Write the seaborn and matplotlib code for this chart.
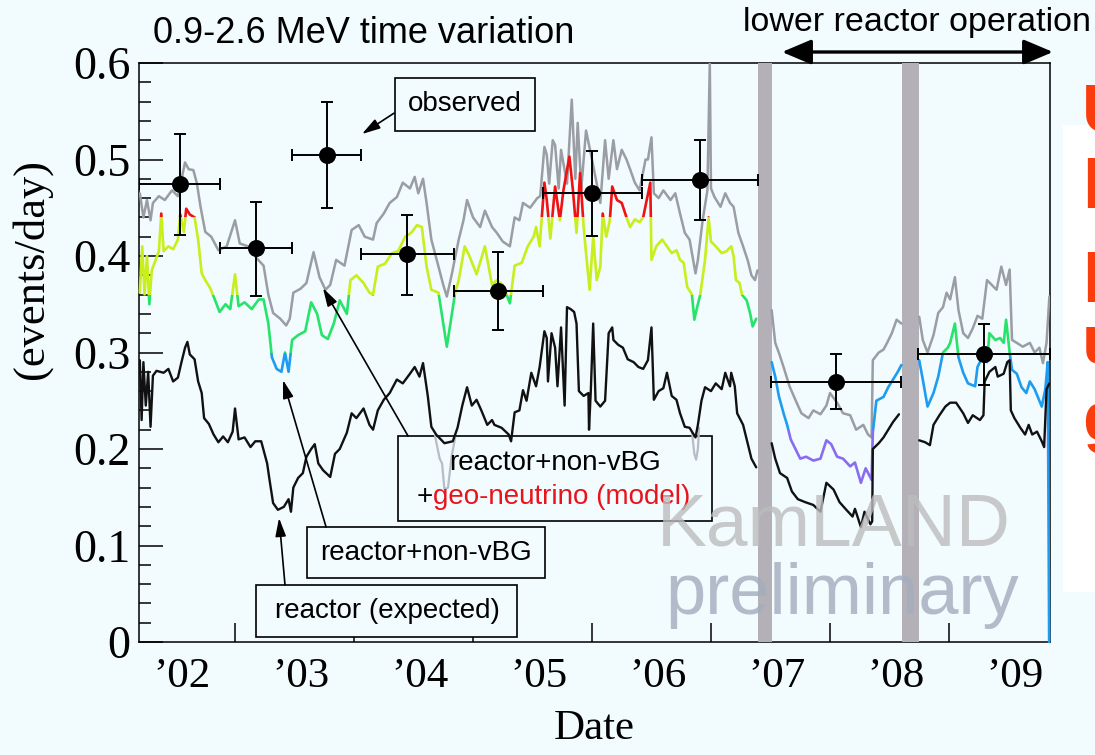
import numpy as np
import pandas as pd
import matplotlib
matplotlib.use("Agg")
import matplotlib.pyplot as plt
from matplotlib.patches import Rectangle
import seaborn as sns

# ---------------------------------------------------------------- data
nan = np.nan

# reactor + non-nu BG + geo-neutrino (model), events/day
total_year = [
    2002.20, 2002.23, 2002.26, 2002.29, 2002.31, 2002.36, 2002.41, 2002.47, 2002.52, 2002.58,
    2002.61, 2002.65, 2002.68, 2002.71, 2002.75, 2002.80, 2002.86, 2002.93, 2003.00, 2003.04,
    2003.11, 2003.18, 2003.24, 2003.28, 2003.32, 2003.38, 2003.43, 2003.46, 2003.49, 2003.55,
    2003.60, 2003.66, 2003.71, 2003.76, 2003.80, 2003.85, 2003.92, 2003.98, 2004.04, 2004.09,
    2004.16, 2004.19, 2004.25, 2004.30, 2004.36, 2004.41, 2004.47, 2004.51, 2004.54, 2004.58,
    2004.61, 2004.65, 2004.71, 2004.75, 2004.78, 2004.82, 2004.88, 2004.92, 2004.95, 2005.00,
    2005.06, 2005.10, 2005.16, 2005.20, 2005.25, 2005.31, 2005.35, 2005.39, 2005.42, 2005.48,
    2005.54, 2005.565, 2005.60, 2005.62, 2005.64, 2005.67, 2005.69, 2005.72, 2005.74, 2005.79,
    2005.83, 2005.86, 2005.88, 2005.91, 2005.95, 2006.00, 2006.04, 2006.07, 2006.11, 2006.14,
    2006.18, 2006.21, 2006.25, 2006.29, 2006.32, 2006.36, 2006.40, 2006.45, 2006.47, 2006.50,
    2006.52, 2006.56, 2006.60, 2006.66, 2006.70, 2006.74, 2006.78, 2006.82, 2006.87, 2006.89,
    2006.93, 2006.97, 2006.99, 2007.00, 2007.03, 2007.08, 2007.12, 2007.16, 2007.19, 2007.23,
    2007.27, 2007.31, 2007.34, 2007.37, 2007.39, 2007.45, 2007.51, 2007.54, 2007.57, 2007.61,
    2007.66, 2007.72, 2007.76, 2007.82, 2007.86, 2007.92, 2007.97, 2008.00, 2008.06, 2008.11,
    2008.17, 2008.22, 2008.28, 2008.32, 2008.35, 2008.36, 2008.41, 2008.45, 2008.48, 2008.52,
    2008.56, 2008.60, 2008.67, 2008.75, 2008.78, 2008.82, 2008.87, 2008.91, 2008.95, 2008.98,
    2009.01, 2009.05, 2009.08, 2009.12, 2009.16, 2009.20, 2009.24, 2009.28, 2009.32, 2009.36,
    2009.40, 2009.44, 2009.48, 2009.51, 2009.53, 2009.57, 2009.62, 2009.68, 2009.72, 2009.76,
    2009.79, 2009.82, 2009.844,
]
total_rate = [
    0.465, 0.440, 0.458, 0.437, 0.455, 0.462, 0.458, 0.468, 0.462, 0.497,
    0.490, 0.489, 0.475, 0.451, 0.425, 0.420, 0.406, 0.410, 0.437, 0.413,
    0.410, 0.398, 0.390, 0.360, 0.341, 0.335, 0.328, 0.335, 0.362, 0.366,
    0.372, 0.404, 0.378, 0.365, 0.370, 0.396, 0.390, 0.427, 0.432, 0.420,
    0.417, 0.434, 0.444, 0.455, 0.461, 0.476, 0.470, 0.482, 0.465, 0.480,
    0.455, 0.417, 0.389, 0.370, 0.358, 0.380, 0.417, 0.437, 0.458, 0.440,
    0.430, 0.447, 0.430, 0.424, 0.415, 0.410, 0.440, 0.437, 0.455, 0.450,
    0.460, 0.462, 0.513, 0.505, 0.475, 0.520, 0.515, 0.470, 0.510, 0.475,
    0.562, 0.480, 0.538, 0.470, 0.530, 0.500, 0.475, 0.455, 0.520, 0.480,
    0.520, 0.490, 0.510, 0.500, 0.490, 0.476, 0.468, 0.500, 0.500, 0.523,
    0.465, 0.460, 0.468, 0.458, 0.465, 0.444, 0.424, 0.417, 0.382, 0.396,
    0.437, 0.468, 0.600, 0.470, 0.461, 0.451, 0.465, 0.455, 0.451, 0.424,
    0.410, 0.395, 0.380, 0.375, 0.385, nan, 0.344, 0.310, 0.300, 0.285,
    0.265, 0.248, 0.237, 0.232, 0.240, 0.236, 0.245, 0.258, 0.248, 0.237,
    0.235, 0.220, 0.225, 0.215, 0.212, 0.292, 0.300, 0.303, 0.310, 0.320,
    0.334, 0.330, nan, 0.337, 0.313, 0.300, 0.318, 0.341, 0.347, 0.362,
    0.355, 0.378, 0.344, 0.320, 0.315, 0.325, 0.338, 0.335, 0.375, 0.370,
    0.365, 0.389, 0.370, 0.386, 0.313, 0.310, 0.306, 0.310, 0.300, 0.305,
    0.289, 0.310, 0.358,
]

# reactor + non-nu BG, events/day
nonbg_year = [
    2002.20, 2002.22, 2002.24, 2002.26, 2002.28, 2002.30, 2002.33, 2002.36, 2002.38, 2002.40,
    2002.44, 2002.48, 2002.52, 2002.54, 2002.57, 2002.59, 2002.62, 2002.66, 2002.69, 2002.72,
    2002.75, 2002.79, 2002.83, 2002.87, 2002.92, 2002.96, 2003.00, 2003.03, 2003.08, 2003.14,
    2003.20, 2003.24, 2003.28, 2003.31, 2003.35, 2003.39, 2003.42, 2003.45, 2003.48, 2003.53,
    2003.59, 2003.64, 2003.69, 2003.73, 2003.78, 2003.83, 2003.88, 2003.94, 2003.97, 2004.02,
    2004.08, 2004.13, 2004.16, 2004.20, 2004.26, 2004.32, 2004.37, 2004.43, 2004.48, 2004.53,
    2004.57, 2004.61, 2004.65, 2004.71, 2004.75, 2004.78, 2004.81, 2004.85, 2004.88, 2004.93,
    2004.97, 2005.03, 2005.10, 2005.16, 2005.20, 2005.25, 2005.31, 2005.35, 2005.41, 2005.46,
    2005.51, 2005.53, 2005.56, 2005.60, 2005.62, 2005.65, 2005.69, 2005.73, 2005.76, 2005.81,
    2005.84, 2005.87, 2005.90, 2005.93, 2005.95, 2005.98, 2006.01, 2006.04, 2006.07, 2006.09,
    2006.12, 2006.15, 2006.17, 2006.21, 2006.25, 2006.29, 2006.32, 2006.36, 2006.40, 2006.43,
    2006.46, 2006.49, 2006.50, 2006.54, 2006.59, 2006.63, 2006.67, 2006.71, 2006.74, 2006.77,
    2006.80, 2006.84, 2006.86, 2006.88, 2006.91, 2006.95, 2006.98, 2007.00, 2007.04, 2007.09,
    2007.13, 2007.17, 2007.19, 2007.21, 2007.24, 2007.26, 2007.30, 2007.33, 2007.35, 2007.38,
    2007.45, 2007.51, 2007.54, 2007.57, 2007.61, 2007.64, 2007.67, 2007.71, 2007.75, 2007.80,
    2007.86, 2007.92, 2007.97, 2008.01, 2008.06, 2008.11, 2008.17, 2008.21, 2008.26, 2008.30,
    2008.35, 2008.36, 2008.39, 2008.45, 2008.49, 2008.53, 2008.57, 2008.60, 2008.67, 2008.75,
    2008.78, 2008.82, 2008.87, 2008.91, 2008.95, 2008.99, 2009.01, 2009.05, 2009.08, 2009.12,
    2009.16, 2009.22, 2009.24, 2009.28, 2009.32, 2009.34, 2009.39, 2009.43, 2009.46, 2009.48,
    2009.51, 2009.53, 2009.57, 2009.61, 2009.65, 2009.68, 2009.72, 2009.76, 2009.78, 2009.81,
    2009.83, 2009.842,
]
nonbg_rate = [
    0.362, 0.410, 0.360, 0.400, 0.350, 0.385, 0.395, 0.405, 0.444, 0.405,
    0.410, 0.407, 0.417, 0.443, 0.425, 0.449, 0.443, 0.440, 0.417, 0.382,
    0.375, 0.367, 0.355, 0.342, 0.350, 0.345, 0.381, 0.348, 0.352, 0.345,
    0.355, 0.355, 0.330, 0.295, 0.283, 0.280, 0.300, 0.280, 0.313, 0.318,
    0.322, 0.352, 0.340, 0.318, 0.314, 0.330, 0.354, 0.340, 0.375, 0.380,
    0.372, 0.362, 0.360, 0.389, 0.392, 0.403, 0.405, 0.420, 0.424, 0.432,
    0.430, 0.389, 0.365, 0.362, 0.330, 0.306, 0.330, 0.362, 0.375, 0.410,
    0.400, 0.381, 0.410, 0.370, 0.375, 0.370, 0.351, 0.390, 0.393, 0.410,
    0.420, 0.430, 0.410, 0.476, 0.458, 0.418, 0.472, 0.437, 0.468, 0.503,
    0.468, 0.424, 0.486, 0.430, 0.403, 0.365, 0.420, 0.375, 0.389, 0.444,
    0.420, 0.437, 0.472, 0.458, 0.455, 0.440, 0.430, 0.438, 0.435, 0.440,
    0.458, 0.476, 0.396, 0.410, 0.417, 0.410, 0.403, 0.406, 0.396, 0.393,
    0.368, 0.360, 0.334, 0.345, 0.360, 0.396, 0.440, 0.415, 0.410, 0.403,
    0.405, 0.410, 0.400, 0.375, 0.372, 0.360, 0.354, 0.340, 0.327, 0.335,
    nan, 0.290, 0.275, 0.255, 0.237, 0.225, 0.210, 0.200, 0.190, 0.192,
    0.188, 0.190, 0.209, 0.205, 0.192, 0.190, 0.182, 0.186, 0.165, 0.180,
    0.168, 0.217, 0.250, 0.254, 0.264, 0.272, 0.280, 0.287, nan, 0.292,
    0.272, 0.244, 0.258, 0.275, 0.300, 0.305, 0.310, 0.330, 0.295, 0.279,
    0.268, 0.265, 0.285, 0.295, 0.290, 0.320, 0.313, 0.315, 0.310, 0.334,
    0.300, 0.282, 0.278, 0.264, 0.258, 0.270, 0.262, 0.250, 0.244, 0.262,
    0.290, 0.000,
]

# reactor (expected), events/day
reactor_year = [
    2002.200, 2002.215, 2002.230, 2002.250, 2002.270, 2002.290, 2002.310, 2002.340, 2002.400, 2002.440,
    2002.48, 2002.52, 2002.55, 2002.58, 2002.60, 2002.62, 2002.66, 2002.69, 2002.72, 2002.74,
    2002.78, 2002.82, 2002.86, 2002.90, 2002.94, 2002.98, 2003.00, 2003.03, 2003.08, 2003.13,
    2003.17, 2003.22, 2003.27, 2003.29, 2003.32, 2003.36, 2003.41, 2003.45, 2003.47, 2003.49,
    2003.53, 2003.57, 2003.60, 2003.64, 2003.67, 2003.70, 2003.74, 2003.80, 2003.84, 2003.88,
    2003.94, 2003.98, 2004.02, 2004.08, 2004.13, 2004.16, 2004.20, 2004.25, 2004.30, 2004.36,
    2004.41, 2004.47, 2004.51, 2004.55, 2004.58, 2004.62, 2004.65, 2004.69, 2004.76, 2004.83,
    2004.87, 2004.91, 2004.95, 2004.99, 2005.03, 2005.07, 2005.12, 2005.16, 2005.18, 2005.24,
    2005.30, 2005.32, 2005.35, 2005.39, 2005.42, 2005.45, 2005.49, 2005.53, 2005.56, 2005.60,
    2005.62, 2005.63, 2005.66, 2005.69, 2005.71, 2005.74, 2005.77, 2005.79, 2005.82, 2005.85,
    2005.87, 2005.89, 2005.93, 2005.97, 2005.975, 2005.99, 2006.01, 2006.03, 2006.07, 2006.11,
    2006.14, 2006.17, 2006.18, 2006.22, 2006.26, 2006.30, 2006.35, 2006.39, 2006.43, 2006.47,
    2006.50, 2006.52, 2006.56, 2006.60, 2006.63, 2006.67, 2006.71, 2006.74, 2006.78, 2006.82,
    2006.87, 2006.89, 2006.92, 2006.95, 2007.00, 2007.04, 2007.09, 2007.12, 2007.16, 2007.17,
    2007.20, 2007.22, 2007.27, 2007.31, 2007.34, 2007.38, 2007.45, 2007.51, 2007.54, 2007.58,
    2007.64, 2007.68, 2007.73, 2007.79, 2007.86, 2007.92, 2007.97, 2008.03, 2008.08, 2008.13,
    2008.19, 2008.21, 2008.26, 2008.29, 2008.34, 2008.355, 2008.36, 2008.41, 2008.45, 2008.49,
    2008.53, 2008.58, 2008.67, 2008.75, 2008.80, 2008.84, 2008.87, 2008.92, 2008.97, 2009.01,
    2009.06, 2009.12, 2009.16, 2009.20, 2009.26, 2009.29, 2009.30, 2009.34, 2009.39, 2009.41,
    2009.46, 2009.49, 2009.51, 2009.52, 2009.55, 2009.60, 2009.64, 2009.67, 2009.70, 2009.74,
    2009.78, 2009.80, 2009.82, 2009.844,
]
reactor_rate = [
    0.292, 0.230, 0.290, 0.245, 0.280, 0.223, 0.276, 0.281, 0.279, 0.283,
    0.270, 0.274, 0.290, 0.305, 0.311, 0.298, 0.293, 0.270, 0.258, 0.232,
    0.226, 0.215, 0.207, 0.213, 0.207, 0.218, 0.242, 0.210, 0.212, 0.202,
    0.208, 0.208, 0.185, 0.168, 0.144, 0.137, 0.140, 0.148, 0.135, 0.160,
    0.170, 0.175, 0.192, 0.200, 0.205, 0.185, 0.178, 0.171, 0.195, 0.200,
    0.217, 0.237, 0.232, 0.242, 0.225, 0.220, 0.240, 0.251, 0.258, 0.272,
    0.268, 0.278, 0.285, 0.275, 0.289, 0.255, 0.223, 0.215, 0.206, 0.208,
    0.222, 0.245, 0.264, 0.245, 0.251, 0.240, 0.225, 0.230, 0.225, 0.222,
    0.215, 0.208, 0.238, 0.240, 0.261, 0.250, 0.279, 0.265, 0.285, 0.322,
    0.315, 0.270, 0.320, 0.305, 0.265, 0.326, 0.245, 0.347, 0.345, 0.342,
    0.330, 0.260, 0.255, 0.258, 0.220, 0.260, 0.330, 0.250, 0.244, 0.250,
    0.320, 0.326, 0.313, 0.308, 0.305, 0.293, 0.290, 0.285, 0.283, 0.292,
    0.326, 0.251, 0.260, 0.263, 0.279, 0.255, 0.251, 0.237, 0.223, 0.222,
    0.212, 0.225, 0.250, 0.264, 0.260, 0.268, 0.262, 0.279, 0.265, 0.279,
    0.265, 0.237, 0.225, 0.205, 0.190, 0.181, nan, 0.206, 0.190, 0.175,
    0.170, 0.156, 0.148, 0.145, 0.142, 0.135, 0.165, 0.158, 0.145, 0.138,
    0.130, 0.138, 0.119, 0.135, 0.122, 0.125, 0.200, 0.206, 0.212, 0.220,
    0.228, 0.236, nan, 0.209, 0.207, 0.204, 0.225, 0.235, 0.244, 0.248,
    0.248, 0.237, 0.227, 0.235, 0.230, 0.235, 0.270, 0.280, 0.285, 0.275,
    0.278, 0.290, 0.292, 0.240, 0.232, 0.222, 0.215, 0.225, 0.215, 0.218,
    0.208, 0.202, 0.262, 0.268,
]

# short excursions of the light grey trace below the reactor curve
dip_year = [2004.68, 2004.72, 2004.74, 2004.76, 2004.79, 2004.82, 2004.85,
            2005.80, 2006.84, 2006.86, 2006.875, 2006.89, 2006.90]
dip_rate = [0.214, 0.190, 0.185, 0.158, 0.160, 0.192, 0.212,
            nan, 0.218, 0.195, 0.189, 0.200, 0.222]

# observed rates in time bins
obs_start = [2002.193, 2002.874, 2003.483, 2004.059, 2004.840, 2005.588, 2006.420, 2007.504, 2008.740]
obs_end = [2002.874, 2003.483, 2004.059, 2004.840, 2005.588, 2006.420, 2007.395, 2008.597, 2009.845]
obs_rate = [0.475, 0.408, 0.505, 0.402, 0.364, 0.465, 0.479, 0.269, 0.298]
obs_low = [0.422, 0.359, 0.450, 0.360, 0.323, 0.421, 0.437, 0.241, 0.266]
obs_high = [0.526, 0.456, 0.560, 0.443, 0.404, 0.509, 0.520, 0.298, 0.330]

# detector purification periods
purif_start = [2007.398, 2008.602]
purif_end = [2007.510, 2008.748]

year_ticks = [2003, 2004, 2005, 2006, 2007, 2008, 2009]
year_label_pos = [2002, 2003, 2004, 2005, 2006, 2007, 2008, 2009]
year_labels = ["\u201902", "\u201903", "\u201904", "\u201905", "\u201906", "\u201907", "\u201908", "\u201909"]
rate_ticks = [0.0, 0.1, 0.2, 0.3, 0.4, 0.5, 0.6]
rate_labels = ["0", "0.1", "0.2", "0.3", "0.4", "0.5", "0.6"]

# ---------------------------------------------------------------- style
sns.set_theme(style="white")
plt.rcParams["font.family"] = ["Liberation Sans", "DejaVu Sans"]

BG = "#f2fbfd"
GREY = "#9b9da4"
BLACK = "#111111"
DIP = "#b7bcc6"
BAND = "#b3b1b7"
LEVELS = [  # colour of the reactor+non-nu BG trace by rate level
    (-1.00, 0.22, "#8a6cf0"),
    (0.22, 0.30, "#1e9cf0"),
    (0.30, 0.36, "#27e36a"),
    (0.36, 0.44, "#c8ee1c"),
    (0.44, 1.00, "#f01212"),
]
SERIF = "Liberation Serif"

W, H = 1095, 755
fig = plt.figure(figsize=(W / 100, H / 100), dpi=100, facecolor=BG)


def fx(px):
    return px / W


def fy(py):
    return 1 - py / H


ax = fig.add_axes([fx(139), fy(642), fx(1049.5) - fx(139), fy(63) - fy(642)])
ax.set_facecolor(BG)

# white panel of the slide to the right of the plot
fig.patches.append(Rectangle((fx(1063), fy(592)), 0.06, fy(125) - fy(592),
                             transform=fig.transFigure, facecolor="white",
                             edgecolor="none", zorder=0))


def runs(years, rates):
    df = pd.DataFrame({"year": years, "rate": rates})
    df["run"] = df["rate"].isna().cumsum()
    return df.dropna()


def draw(df, color, lw, z):
    n0 = len(ax.lines)
    sns.lineplot(data=df, x="year", y="rate", units="run", estimator=None,
                 color=color, linewidth=lw, ax=ax, legend=False)
    new = ax.lines[n0:]
    for ln in new:
        ln.set_zorder(z)
    return new


total_df = runs(total_year, total_rate)
nonbg_df = runs(nonbg_year, nonbg_rate)
reactor_df = runs(reactor_year, reactor_rate)
dip_df = runs(dip_year, dip_rate)

draw(total_df, GREY, 1.8, 3.2)

END_CUT = 2009.836
for lo, hi, col in LEVELS:
    x0, width = 2001.0, 10.0
    if lo < 0:
        width = END_CUT - x0
    for ln in draw(nonbg_df, col, 1.9, 3.4):
        ln.set_clip_path(Rectangle((x0, lo), width, hi - lo, transform=ax.transData))
# final drop of the trace at the end of the data set
for ln in draw(nonbg_df, LEVELS[1][2], 1.9, 3.4):
    ln.set_clip_path(Rectangle((END_CUT, -1), 1.0, 1.3, transform=ax.transData))

draw(dip_df, DIP, 1.6, 3.5)
draw(reactor_df, BLACK, 1.7, 3.6)

# purification periods
for a, b in zip(purif_start, purif_end):
    ax.axvspan(a, b, color=BAND, lw=0, zorder=3.0)

# observed points
obs_start_a = np.array(obs_start)
obs_end_a = np.array(obs_end)
obs_mid = (obs_start_a + obs_end_a) / 2
obs_rate_a = np.array(obs_rate)
ax.errorbar(obs_mid, obs_rate_a,
            xerr=[obs_mid - obs_start_a, obs_end_a - obs_mid],
            yerr=[obs_rate_a - np.array(obs_low), np.array(obs_high) - obs_rate_a],
            fmt="none", ecolor="black", elinewidth=1.4, capsize=4.5, capthick=1.4, zorder=6)
sns.scatterplot(x=obs_mid, y=obs_rate_a, s=150, color="black", edgecolor="black",
                linewidth=0, ax=ax, zorder=7, legend=False)

# ---------------------------------------------------------------- axes
ax.set_xlim(2002.193, 2009.845)
ax.set_ylim(0, 0.6)
ax.set_xticks(year_ticks)
ax.set_xticklabels([])
ax.set_xticks([y + 0.55 for y in year_label_pos], minor=True)
ax.set_xticklabels(year_labels, minor=True)
ax.tick_params(axis="x", which="major", direction="in", length=13.5, width=1.1,
               color="black", bottom=True, top=False)
ax.tick_params(axis="x", which="minor", length=0, pad=11, labelsize=31,
               labelfontfamily=SERIF, labelcolor="black", bottom=True)
ax.set_yticks(rate_ticks)
ax.set_yticklabels(rate_labels)
ax.set_yticks([v for v in np.arange(0, 0.601, 0.02) if round(v * 50) % 5], minor=True)
ax.tick_params(axis="y", which="major", direction="in", length=17, width=1.1,
               color="black", left=True, right=False, pad=6, labelsize=33,
               labelfontfamily=SERIF, labelcolor="black")
ax.tick_params(axis="y", which="minor", direction="in", length=8.5, width=1.1,
               color="black", left=True, right=False)
for sp in ax.spines.values():
    sp.set_color("black")
    sp.set_linewidth(1.1)
    sp.set_zorder(2.9)

ax.set_xlabel("Date", fontsize=31, family=SERIF, color="black")
ax.xaxis.set_label_coords(0.5, -0.117)
ax.set_ylabel("(events/day)", fontsize=32, family=SERIF, color="black")
ax.yaxis.set_label_coords(-0.0955, 0.644)

# ---------------------------------------------------------------- annotations
def box(x0, x1, y0, y1):
    ax.add_patch(Rectangle((x0, y0), x1 - x0, y1 - y0, facecolor=BG,
                           edgecolor="black", lw=1.2, zorder=2.8))


def arrow(start, end):
    ax.annotate("", xy=end, xytext=start,
                arrowprops=dict(arrowstyle="-|>,head_length=0.55,head_width=0.16",
                                mutation_scale=20, lw=1.2, color="black",
                                shrinkA=0, shrinkB=0), zorder=6)


TXT = dict(fontsize=20, ha="center", va="center", zorder=6, color="black")

box(2004.345, 2005.521, 0.5295, 0.5845)
ax.text(2004.933, 0.5575, "observed", **TXT)
arrow((2004.336, 0.548), (2004.067, 0.5264))

box(2004.370, 2007.008, 0.1254, 0.2135)
ax.text(2005.689, 0.1855, "reactor+non-vBG", **TXT)
ax.text(2004.664, 0.150, "+", fontsize=20, ha="right", va="center", zorder=6, color="black")
ax.text(2004.664, 0.150, "geo-neutrino (model)", fontsize=20, ha="left", va="center",
        zorder=6, color="#e8141c")
arrow((2004.454, 0.2135), (2003.739, 0.3668))

box(2003.605, 2005.605, 0.0663, 0.1192)
ax.text(2004.605, 0.0925, "reactor+non-vBG", **TXT)
arrow((2003.765, 0.1192), (2003.403, 0.2715))

box(2003.176, 2005.370, 0.0052, 0.0591)
ax.text(2004.277, 0.0318, "reactor (expected)", **TXT)
arrow((2003.420, 0.0591), (2003.370, 0.1285))

# header texts
fig.text(fx(153), fy(43), "0.9-2.6 MeV time variation", fontsize=26,
         ha="left", va="baseline", color="black")
fig.text(fx(743), fy(31), "lower reactor operation", fontsize=24.5,
         ha="left", va="baseline", color="black")
ax.annotate("", xy=(fx(1053), fy(52)), xytext=(fx(782), fy(52)),
            xycoords="figure fraction", textcoords="figure fraction",
            arrowprops=dict(arrowstyle="<|-|>,head_length=0.9,head_width=0.38",
                            mutation_scale=20, lw=2.4, color="black",
                            shrinkA=0, shrinkB=0))

# watermark
fig.text(fx(657), fy(545), "KamLAND", fontsize=54, color="#bdbcbe", alpha=0.8,
         ha="left", va="baseline", zorder=8)
fig.text(fx(665), fy(614), "preliminary", fontsize=52, color="#a3acbe", alpha=0.8,
         ha="left", va="baseline", zorder=8)

# slide text running off the right edge
RED = "#fb3c0c"
for ch, base in [("U", 132), ("l", 208), ("l", 302), ("u", 363), ("g", 440)]:
    fig.text(fx(1082), fy(base), ch, fontsize=50, fontweight="bold", color=RED,
             ha="left", va="baseline", zorder=4)

fig.savefig("out.png", dpi=100, facecolor=BG)
